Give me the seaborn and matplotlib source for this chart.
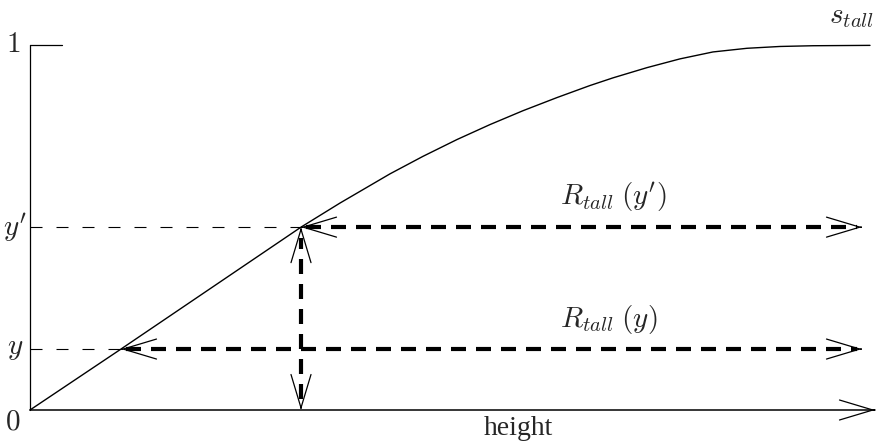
import matplotlib
matplotlib.use("Agg")
import matplotlib.pyplot as plt
import pandas as pd
import seaborn as sns

# membership curve s_tall (height in arbitrary units, degree 0..1)
height_vals = [0.0, 0.91, 2.71, 3.10, 3.60, 3.93, 4.27, 4.60, 4.93, 5.27, 5.60,
               5.83, 6.17, 6.50, 6.83, 7.17, 7.50, 7.83, 8.40]
s_tall_vals = [0.0, 0.167, 0.501, 0.567, 0.647, 0.695, 0.741, 0.782, 0.820, 0.856, 0.889,
               0.910, 0.938, 0.962, 0.981, 0.991, 0.996, 0.998, 0.999]

y_levels = [0.167, 0.501]          # y and y'
y_hits = [0.91, 2.71]              # where each level meets the curve
y_tick_labels = ["$y$", "$y'$"]
range_labels = [r"$R_{tall}\;(y)$", r"$R_{tall}\;(y')$"]
range_label_x = [5.79, 5.83]
x_end = 8.45                       # end of height axis
range_end = 8.32                   # end of the R_tall arrows

sns.set_theme(style="white")
plt.rcParams["font.family"] = ["Liberation Serif", "DejaVu Serif"]
plt.rcParams["mathtext.fontset"] = "cm"

df = pd.DataFrame({"height": height_vals, "s_tall": s_tall_vals})

fig = plt.figure(figsize=(8.8, 4.43), dpi=100)
ax = fig.add_axes([0, 0, 1, 1])
ax.set_xlim(-0.3, 8.5)
ax.set_ylim(-0.0904, 1.1233)
ax.axis("off")

sns.lineplot(data=df, x="height", y="s_tall", ax=ax, color="black", linewidth=1.0)

def head(tip, frm):
    # open arrow head only, thin lines
    ax.annotate("", xy=tip, xytext=frm,
                arrowprops=dict(arrowstyle="->,head_length=1.6,head_width=0.48",
                                color="black", lw=0.9, shrinkA=0, shrinkB=0,
                                mutation_scale=15))

# axes
ax.plot([0, 0], [0, 1], color="black", lw=0.9)
ax.plot([0, 0.32], [1, 1], color="black", lw=0.9)
ax.plot([0, x_end], [0, 0], color="black", lw=1.1)
head((x_end, 0), (x_end - 0.01, 0))

for lev, hit, tl, rl, rx in zip(y_levels, y_hits, y_tick_labels, range_labels, range_label_x):
    # thin dashed guide from y axis to curve
    ax.plot([0, hit], [lev, lev], color="black", lw=0.8, dashes=(10.8, 12.6))
    # thick dashed range arrow
    ax.plot([hit + 0.05, range_end - 0.05], [lev, lev], color="black", lw=3.0, dashes=(3.6, 2.4))
    head((hit, lev), (hit + 0.01, lev))
    head((range_end, lev), (range_end - 0.01, lev))
    ax.text(-0.15, lev, tl, fontsize=21, ha="center", va="center")
    ax.text(rx, lev + 0.035, rl, fontsize=21, ha="center", va="bottom")

# vertical double arrow at y'
vx = y_hits[1]
ax.plot([vx, vx], [0.03, y_levels[1] - 0.03], color="black", lw=3.0, dashes=(3.6, 2.4))
head((vx, y_levels[1]), (vx, y_levels[1] - 0.01))
head((vx, 0), (vx, 0.01))

ax.text(-0.17, 1.0, "$1$", fontsize=21, ha="center", va="center")
ax.text(-0.17, -0.033, "$0$", fontsize=21, ha="center", va="center")
ax.text(8.22, 1.077, "$s_{tall}$", fontsize=21, ha="center", va="center")
ax.text(4.88, -0.017, "height", fontsize=20, ha="center", va="top")

plt.savefig("out.png", dpi=100)
